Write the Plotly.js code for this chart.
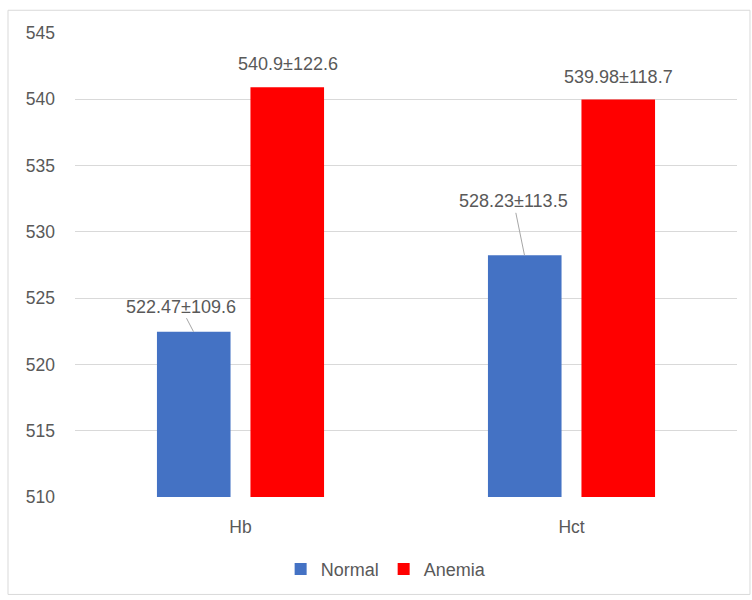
<!DOCTYPE html>
<html>
<head>
<meta charset="utf-8">
<script src="https://cdn.plot.ly/plotly-3.0.1.min.js"></script>
<style>html,body{margin:0;padding:0;background:#fff;}#chart{width:752px;height:600px;}</style>
</head>
<body>
<div id="chart"></div>
<script>
const categories = ["Hb", "Hct"];
const normalValues = [522.47, 528.23];
const anemiaValues = [540.9, 539.98];
const normalLabels = ["522.47±109.6", "528.23±113.5"];
const anemiaLabels = ["540.9±122.6", "539.98±118.7"];
const yTicks = [510, 515, 520, 525, 530, 535, 540, 545];

const font = {family: "Liberation Sans, Arial, sans-serif", size: 18, color: "#595959"};
const tickFont = {family: "Liberation Sans, Arial, sans-serif", size: 17.5, color: "#595959"};

const traces = [
  {type: "bar", name: "Normal", x: categories, y: normalValues, marker: {color: "#4472C4"}},
  {type: "bar", name: "Anemia", x: categories, y: anemiaValues, marker: {color: "#FF0000"}}
];

const barOffset = 47;
const normalArrow = [{ax: -13, ay: -25}, {ax: -11, ay: -54}];
const annotations = [];
categories.forEach((c, i) => {
  annotations.push({
    x: c, y: normalValues[i], xref: "x", yref: "y", xshift: -barOffset,
    text: normalLabels[i], showarrow: true, arrowhead: 0, arrowwidth: 1, arrowcolor: "#a6a6a6",
    ax: normalArrow[i].ax, ay: normalArrow[i].ay, standoff: 0, font: font
  });
  annotations.push({
    x: c, y: anemiaValues[i], xref: "x", yref: "y", xshift: barOffset,
    text: anemiaLabels[i], showarrow: false, yanchor: "bottom", yshift: 11, font: font
  });
});

const layout = {
  width: 752, height: 600,
  margin: {l: 75, r: 15, t: 33, b: 100},
  paper_bgcolor: "#fff", plot_bgcolor: "#fff",
  barmode: "group", bargap: 0.435, bargroupgap: 0.213,
  font: font,
  showlegend: true,
  legend: {orientation: "h", x: 0.47, xanchor: "center", y: -0.156, yanchor: "middle", font: font, itemwidth: 30, traceorder: "normal"},
  xaxis: {type: "category", showgrid: false, showline: false, ticks: "", tickfont: tickFont, ticklabelstandoff: 17, zeroline: false},
  yaxis: {range: [510, 545], tickvals: yTicks, showgrid: true, gridcolor: "#d9d9d9", gridwidth: 1,
          showline: false, zeroline: false, ticks: "", tickfont: tickFont, ticklabelstandoff: 19},
  annotations: annotations,
  shapes: [{type: "rect", xref: "paper", yref: "paper", x0: -0.1012, x1: 1.0196, y0: -0.21, y1: 1.049,
            line: {color: "#d9d9d9", width: 1}, fillcolor: "rgba(0,0,0,0)", layer: "below"}]
};

Plotly.newPlot("chart", traces, layout, {displayModeBar: false, staticPlot: true});
</script>
</body>
</html>
